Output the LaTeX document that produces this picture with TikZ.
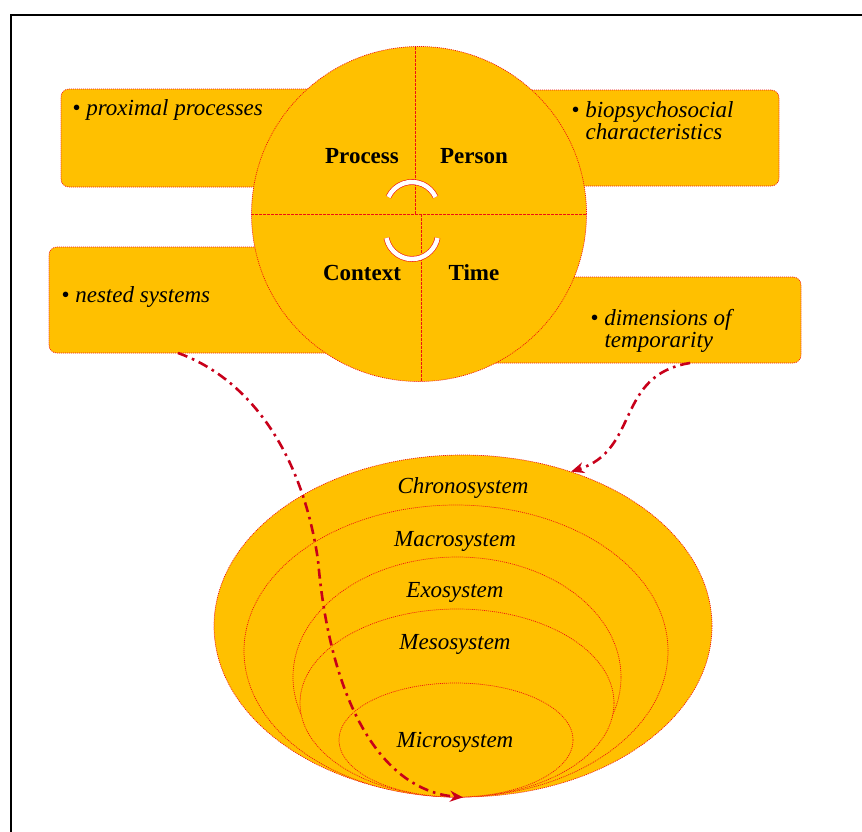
\documentclass[tikz,border=0pt]{standalone}
\usepackage{fontspec}
\setmainfont{Liberation Serif}
\usepackage{xcolor}
\usetikzlibrary{shapes.geometric,arrows.meta}
\definecolor{gold}{HTML}{FFC000}
\definecolor{edgered}{HTML}{EE1111}
\definecolor{linkred}{HTML}{C8001A}

\begin{document}
\begin{tikzpicture}[x=1pt, y=-1pt,
  every node/.style={font=\fontsize{23}{22}\selectfont},
  part/.style={draw=edgered, line width=0.7pt, dash pattern=on 1pt off 1pt, fill=gold},
  panel/.style={part, rectangle, rounded corners=8pt, inner sep=0pt},
  level/.style={part, ellipse, inner sep=0pt},
  divider/.style={draw=edgered, line width=0.9pt, dash pattern=on 2.5pt off 1.5pt},
  turnarc/.style={draw=edgered, line width=0.6pt, double=white, double distance=4.5pt},
  link/.style={draw=linkred, line width=2.6pt, dash pattern=on 10pt off 5pt on 2.6pt off 5pt, -{Stealth[length=13pt,width=11pt]}},
]
\useasboundingbox (0,0) rectangle (862,831);
% Frame
\draw[line width=2.5pt] (11,15) rectangle (900,900);

% Side panels
\node[panel, minimum width=299pt, minimum height=98pt] (prox) at (210.5,138) {};
\node[panel, minimum width=299pt, minimum height=96pt] (bio) at (629.5,138) {};
\node[panel, minimum width=311pt, minimum height=106pt] (nest) at (204.5,300) {};
\node[panel, minimum width=331pt, minimum height=86pt] (temp) at (635.5,320) {};

% PPCT circle
\node[part, circle, minimum size=335pt, inner sep=0pt] (pcpt) at (419,214) {};
\draw[divider] (pcpt.west) -- (pcpt.east);
\draw[divider] (415,47) -- (415,214);
\draw[divider] (421,214) -- (421,381);

% Cycle arcs
\draw[turnarc] (412,208) +(205:26) arc[start angle=205, end angle=335, radius=26];
\draw[turnarc] (412,233) +(169:26) arc[start angle=169, end angle=11, radius=26];

% Quadrant labels
\node[anchor=base, font=\fontsize{23}{22}\selectfont\bfseries] (process) at (362,163) {Process};
\node[anchor=base, font=\fontsize{23}{22}\selectfont\bfseries] (person) at (474,163) {Person};
\node[anchor=base, font=\fontsize{23}{22}\selectfont\bfseries] (context) at (362,280) {Context};
\node[anchor=base, font=\fontsize{23}{22}\selectfont\bfseries] (time) at (474,280) {Time};

% Panel texts
\node[anchor=base west] (proxtext) at (69,115) {\textbullet\ \textit{proximal processes}};
\node[anchor=base west] (biotext) at (568,117) {\textbullet\ \textit{biopsychosocial}};
\node[anchor=base west] (biotext2) at (582,139) {\textit{characteristics}};
\node[anchor=base west] (nesttext) at (58,302) {\textbullet\ \textit{nested systems}};
\node[anchor=base west] (temptext) at (587,325) {\textbullet\ \textit{dimensions of}};
\node[anchor=base west] (temptext2) at (601,347) {\textit{temporarity}};

% Nested systems
\node[level, minimum width=498pt, minimum height=342pt] (chrono) at (463,626) {};
\node[level, minimum width=424pt, minimum height=292pt] (macro) at (456,651) {};
\node[level, minimum width=328pt, minimum height=240pt] (exo) at (457,677) {};
\node[level, minimum width=314pt, minimum height=188pt] (meso) at (457,703) {};
\node[level, minimum width=234pt, minimum height=114pt] (micro) at (456,740) {};

\node[anchor=base] (chronotext) at (463,493) {\textit{Chronosystem}};
\node[anchor=base] (macrotext) at (455,546) {\textit{Macrosystem}};
\node[anchor=base] (exotext) at (455,597) {\textit{Exosystem}};
\node[anchor=base] (mesotext) at (455,649) {\textit{Mesosystem}};
\node[anchor=base] (microtext) at (455,747) {\textit{Microsystem}};

% Links
\coordinate (nestfoot) at (178,353);
\coordinate (tempfoot) at (690,363);
\draw[link] (nestfoot) .. controls (240,375) and (300,440) .. (318,560) .. controls (330,700) and (380,790) .. (chrono.south);
\draw[link] (tempfoot) .. controls (615,375) and (640,450) .. (chrono.55);
\end{tikzpicture}
\end{document}
